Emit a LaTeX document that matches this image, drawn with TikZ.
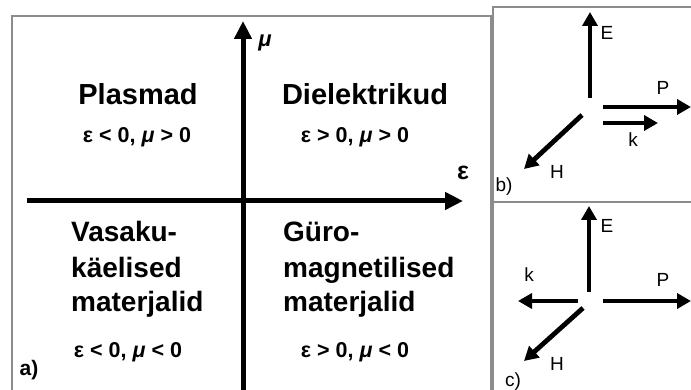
\documentclass[tikz,border=0pt]{standalone}
\usepackage{fontspec}
\setmainfont{Liberation Sans}
\usetikzlibrary{arrows.meta}
\definecolor{framegray}{HTML}{8C8C8C}
\tikzset{
  frameline/.style={draw=framegray, line width=1.5pt},
  axis/.style={line width=5pt, -{Triangle[length=18pt,width=17pt]}},
  vec/.style={line width=4.8pt, -{Triangle[length=14pt,width=15pt]}},
  title/.style={font=\fontsize{29}{33}\selectfont\bfseries, inner sep=0pt, anchor=base},
  bigtxt/.style={font=\fontsize{28}{35}\selectfont\bfseries, inner sep=0pt, anchor=base west},
  cond/.style={font=\fontsize{21.5}{24}\selectfont\bfseries, inner sep=0pt, anchor=base},
  vlab/.style={font=\fontsize{19}{22}\selectfont, inner sep=0pt},
}
\begin{document}
\begin{tikzpicture}[x=1pt,y=-1pt]
\useasboundingbox (0,0) rectangle (691,390);
% frames
\draw[frameline] (12,395) -- (12,16) -- (491,16) -- (491,395);
\draw[frameline] (493,395) -- (493,7) -- (695,7);
\draw[frameline] (493,202) -- (695,202);

% panel a axes
\coordinate (vbot) at (243,392);
\coordinate (vtop) at (243,21);
\coordinate (hleft) at (27,201);
\coordinate (hright) at (463,201);
\draw[axis] (vbot) -- (vtop);
\draw[axis] (hleft) -- (hright);
\node[font=\fontsize{22}{24}\selectfont\bfseries\itshape, inner sep=0pt] (mulab) at (265,43) {μ};
\node[font=\fontsize{25}{28}\selectfont\bfseries, inner sep=0pt] (eplab) at (463,173) {ε};

\node[title] (plas) at (138,105) {Plasmad};
\node[title] (diel) at (365,105) {Dielektrikud};
\node[cond] (c1) at (137,143) {ε < 0, \textit{μ} > 0};
\node[cond] (c2) at (355,143) {ε > 0, \textit{μ} > 0};
\node[bigtxt] (vas1) at (71,242) {Vasaku-};
\node[bigtxt] (vas2) at (71,277) {käelised};
\node[bigtxt] (vas3) at (71,311) {materjalid};
\node[bigtxt] (gur1) at (283,242) {Güro-};
\node[bigtxt] (gur2) at (283,277) {magnetilised};
\node[bigtxt] (gur3) at (283,311) {materjalid};
\node[cond] (c3) at (128,357) {ε < 0, \textit{μ} < 0};
\node[cond] (c4) at (355,357) {ε > 0, \textit{μ} < 0};
\node[font=\fontsize{21}{24}\selectfont\bfseries, inner sep=0pt] (la) at (29,370) {a)};

% panel b
\coordinate (bE0) at (590,98);
\coordinate (bE1) at (590,12);
\coordinate (bP0) at (603,107);
\coordinate (bP1) at (691,107);
\coordinate (bk0) at (603,123);
\coordinate (bk1) at (658,123);
\coordinate (bH0) at (582,115);
\coordinate (bH1) at (524,169);
\draw[vec] (bE0) -- (bE1);
\draw[vec] (bP0) -- (bP1);
\draw[vec] (bk0) -- (bk1);
\draw[vec] (bH0) -- (bH1);
\node[vlab] (bE) at (607,33) {E};
\node[vlab] (bP) at (663,88) {P};
\node[vlab] (bk) at (633,140) {k};
\node[vlab] (bH) at (557,172) {H};
\node[vlab] (lb) at (504,187) {b)};

% panel c
\coordinate (cE0) at (589,292);
\coordinate (cE1) at (589,206);
\coordinate (ck0) at (578,301);
\coordinate (ck1) at (518,301);
\coordinate (cP0) at (603,301);
\coordinate (cP1) at (691,301);
\coordinate (cH0) at (583,308);
\coordinate (cH1) at (524,361);
\draw[vec] (cE0) -- (cE1);
\draw[vec] (ck0) -- (ck1);
\draw[vec] (cP0) -- (cP1);
\draw[vec] (cH0) -- (cH1);
\node[vlab] (cE) at (607,226) {E};
\node[vlab] (ck) at (529,275) {k};
\node[vlab] (cP) at (663,280) {P};
\node[vlab] (cH) at (557,364) {H};
\node[vlab] (lc) at (513,382) {c)};
\end{tikzpicture}
\end{document}
